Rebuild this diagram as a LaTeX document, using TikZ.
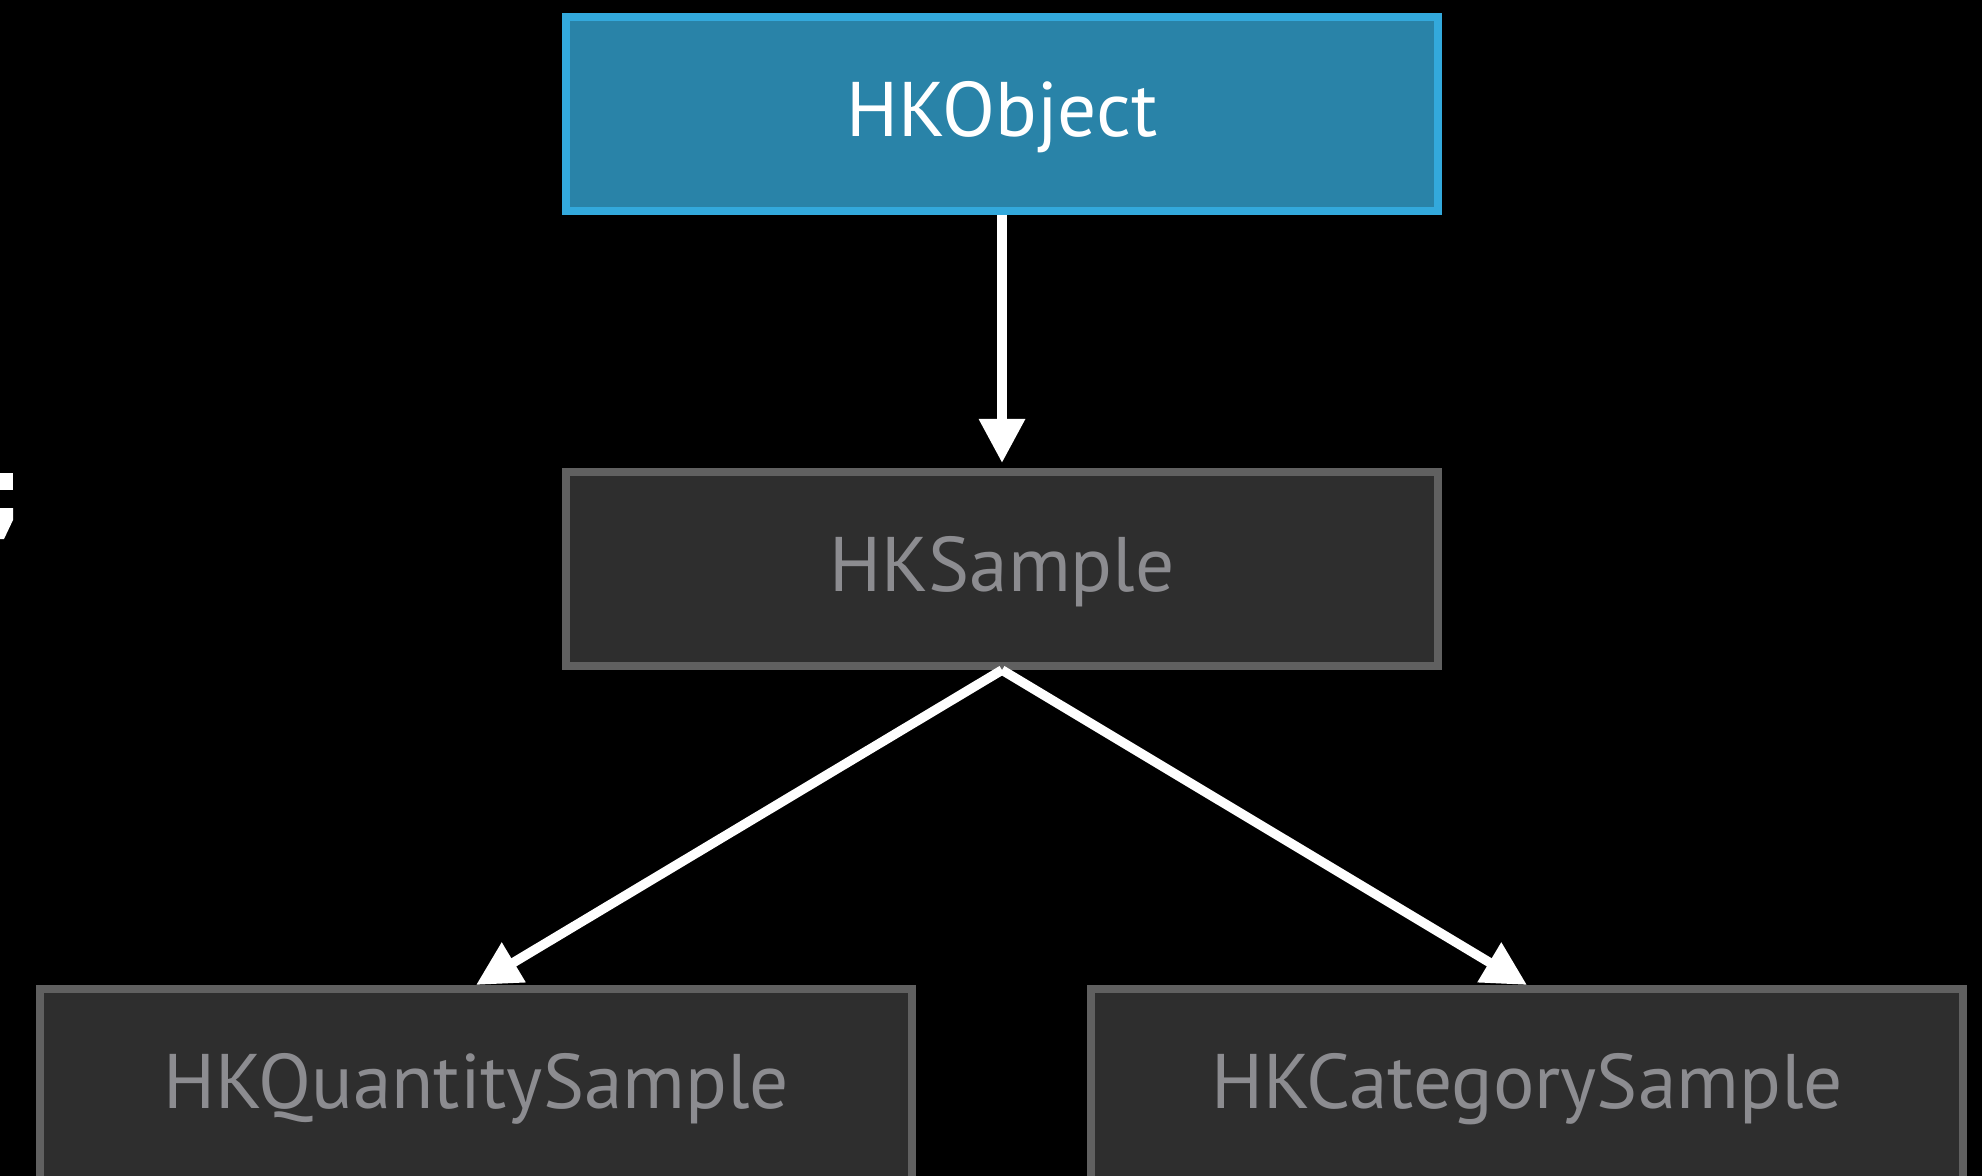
\documentclass[tikz,border=0pt]{standalone}
\usepackage{fontspec}
\setmainfont{PT Sans}
\usetikzlibrary{arrows.meta}
\definecolor{hkblue}{HTML}{2983A8}
\definecolor{hkblueline}{HTML}{33A9DC}
\definecolor{hkgray}{HTML}{2E2E2E}
\definecolor{hkgrayline}{HTML}{606060}
\definecolor{hktext}{HTML}{8C8C90}
\tikzset{
    classbox/.style={draw=hkgrayline, fill=hkgray, text=hktext, line width=0.08cm,
        minimum width=8.72cm, minimum height=1.94cm, inner sep=0pt,
        text height=0.6cm, text depth=0.15cm,
        font=\fontsize{22}{26}\selectfont},
    rootbox/.style={classbox, draw=hkblueline, fill=hkblue, text=white},
    inherit/.style={-{Triangle[length=0.44cm, width=0.44cm]}, line width=0.095cm, white}
}
\begin{document}
\begin{tikzpicture}[x=0.01cm, y=-0.01cm]
        \useasboundingbox (0, 0) rectangle (1982, 1176);
        \clip (0, 0) rectangle (1982, 1176);
        \fill[black] (0, 0) rectangle (1982, 1176);

        % Leftover glyph at the edge
        \fill[white] (0, 473) rectangle (13, 490);
        \fill[white] (0, 508) -- (13, 508) -- (13, 520) -- (4, 539) -- (0, 539) -- cycle;

        % Boxes
        \node[rootbox] (obj) at (1002, 114) {HKObject};
        \node[classbox] (sample) at (1002, 569) {HKSample};
        \node[classbox] (qty) at (476, 1086) {HKQuantitySample};
        \node[classbox] (cat) at (1527, 1086) {HKCategorySample};

        % Arrows
        \draw[inherit, shorten >=0.05cm] (obj) -- (sample);
        \draw[inherit] (sample.south) -- (qty.north);
        \draw[inherit] (sample.south) -- (cat.north);
    \end{tikzpicture}
\end{document}
